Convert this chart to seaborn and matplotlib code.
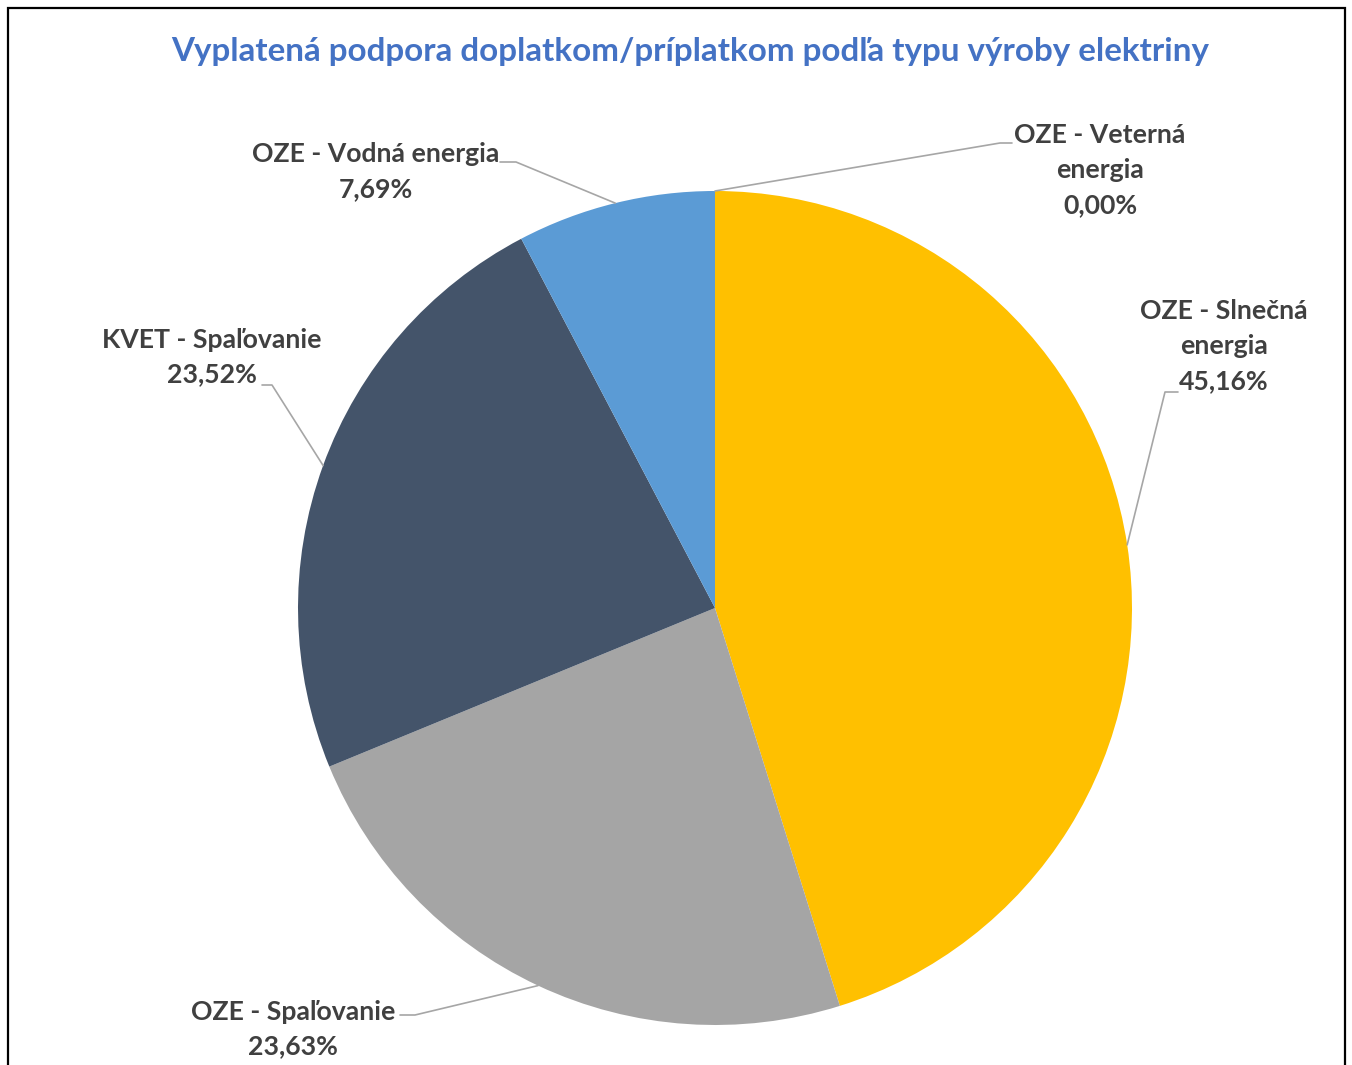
import numpy as np
import matplotlib
matplotlib.use("Agg")
import matplotlib.pyplot as plt
from matplotlib.patches import Rectangle
import seaborn as sns

# ---- data ----
categories = ["OZE - Slnečná\nenergia", "OZE - Spaľovanie", "KVET - Spaľovanie",
              "OZE - Vodná energia", "OZE - Veterná\nenergia"]
shares = [45.16, 23.63, 23.52, 7.69, 0.00]
pct_labels = ["45,16%", "23,63%", "23,52%", "7,69%", "0,00%"]
colors = ["#FFC000", "#A5A5A5", "#44546A", "#5B9BD5", "#ED7D31"]
title = "Vyplatená podpora doplatkom/príplatkom podľa typu výroby elektriny"

sns.set_theme(style="white")
plt.rcParams['font.family'] = ['Lato', 'DejaVu Sans']

W, H = 1352, 1065
fig = plt.figure(figsize=(W / 100, H / 100), dpi=100)
cx, cy, R = 715, 608, 417
L = 1.6
ax = fig.add_axes([(cx - L * R) / W, (H - cy - L * R) / H, 2 * L * R / W, 2 * L * R / H])
wedges, _ = ax.pie(shares, colors=colors, startangle=90, counterclock=False,
                   radius=1, wedgeprops=dict(linewidth=0))
ax.set_xlim(-L, L)
ax.set_ylim(-L, L)
ax.set_aspect('equal')
ax.axis('off')


def px2d(px, py):
    return ((px - cx) / R, (cy - py) / R)


# layout: text block centre (px), leader start (px), elbow (px)
layout = [
    ((1224, 346), (1178, 392), (1165, 392)),
    ((293, 1029), (400, 1015), (415, 1015)),
    ((212, 357), (262, 385), (272, 385)),
    ((376, 172), (500, 162), (516, 162)),
    ((1100, 170), (1012, 143), (1000, 143)),
]

txt_color = "#404040"
for w, cat, pct, (tc, ls, el) in zip(wedges, categories, pct_labels, layout):
    mid = np.deg2rad((w.theta1 + w.theta2) / 2)
    px_, py_ = np.cos(mid), np.sin(mid)
    p0 = px2d(*ls)
    p1 = px2d(*el)
    ax.plot([p0[0], p1[0], px_], [p0[1], p1[1], py_], color="#A6A6A6",
            lw=1.2, clip_on=False, zorder=1)
    t = px2d(*tc)
    ax.text(t[0], t[1], f"{cat}\n{pct}", ha="center", va="center",
            fontsize=19.2, fontweight="bold", color=txt_color,
            linespacing=1.55, clip_on=False)

fig.text(690 / W, 1 - 51 / H, title, ha="center", va="center",
         fontsize=23.9, fontweight="bold", color="#4472C4")

fig.patches.append(Rectangle((8 / W, -0.05), (1345 - 8) / W, 1.05 - 8 / H,
                             transform=fig.transFigure, fill=False,
                             edgecolor="black", lw=1.6))

fig.savefig("out.png", dpi=100)
